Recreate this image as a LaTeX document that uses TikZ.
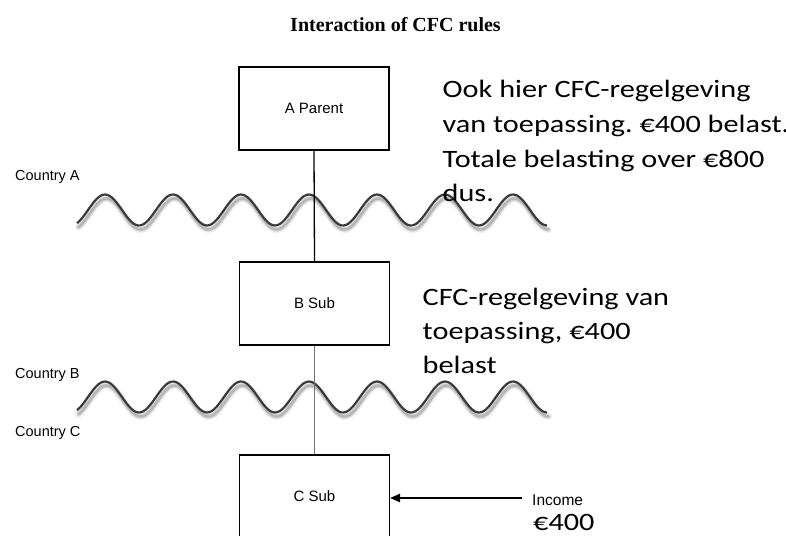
\documentclass[tikz,border=0pt]{standalone}
\usepackage{fontspec}
\setmainfont{Liberation Sans}
\newfontfamily\calfont[FakeStretch=1.21]{Carlito}
\newfontfamily\titlefont{Liberation Serif}
\usetikzlibrary{arrows.meta}
\definecolor{wavecol}{HTML}{3A3A3A}
\frenchspacing
\begin{document}
\begin{tikzpicture}[x=1pt,y=-1pt,
  ent/.style={draw=black,line width=1.3pt,minimum width=150pt,minimum height=83pt,inner sep=0pt,font=\fontsize{15}{18}\selectfont},
  lbl/.style={anchor=base west,inner sep=0pt,font=\fontsize{14.5}{17}\selectfont},
  note/.style={anchor=base west,inner sep=0pt,font=\calfont\fontsize{25}{30}\selectfont},
  wave/.style={draw=wavecol,line width=2.2pt,line join=round},
  shade/.style={draw=black,line cap=round,line join=round}]
\clip (0,0) rectangle (786,535);
\fill[white] (0,0) rectangle (786,535);
% title
\node[anchor=base,inner sep=0pt,font=\titlefont\bfseries\fontsize{20}{24}\selectfont] (title) at (395.5,31.5) {Interaction of CFC rules};
% waves with soft shadows
\foreach \m in {210,397}{
  \begin{scope}[shift={(1.5,4)}]
    \draw[shade,line width=7pt,opacity=0.06] plot[domain=77:547,samples=200] (\x,{\m-15.5*cos((\x-105)*5.2941)});
    \draw[shade,line width=4.5pt,opacity=0.10] plot[domain=77:547,samples=200] (\x,{\m-15.5*cos((\x-105)*5.2941)});
    \draw[shade,line width=2.5pt,opacity=0.15] plot[domain=77:547,samples=200] (\x,{\m-15.5*cos((\x-105)*5.2941)});
  \end{scope}
  \draw[wave] plot[domain=77:547,samples=200] (\x,{\m-15.5*cos((\x-105)*5.2941)});
}
% entities
\node[ent,fill=white] (A) at (314,108.5) {A Parent};
\node[ent,fill=white] (B) at (314.5,303.5) {B Sub};
\node[ent,fill=white] (C) at (314.5,496.5) {C Sub};
% connectors
\draw[line width=1.3pt,black] (A.south) -- (B.north);
\draw[line width=1.3pt,black!55] (B.south) -- (C.north);
\coordinate (arrS) at (522,498);
\draw[line width=1.3pt,-{Triangle[length=10pt,width=8.5pt]}] (arrS) -- (arrS -| C.east);
% country labels
\node[lbl] (ca) at (15,180) {Country A};
\node[lbl] (cb) at (15,378) {Country B};
\node[lbl] (cc) at (15,436) {Country C};
% income
\node[lbl,font=\fontsize{15.5}{18}\selectfont] (inc) at (532,505) {Income};
\node[note] (eur) at (533,530.5) {€400};
% note top
\node[note] (n1) at (442.5,97.5) {Ook hier CFC-regelgeving};
\node[note] (n2) at (442.5,132.5) {van toepassing. €400 belast.};
\node[note] (n3) at (442.5,167) {Totale belasting over €800};
\node[note] (n4) at (442.5,201.5) {dus.};
% note middle
\node[note] (m1) at (422.5,305) {CFC-regelgeving van};
\node[note] (m2) at (422.5,339) {toepassing, €400};
\node[note] (m3) at (422.5,373.5) {belast};
\end{tikzpicture}
\end{document}
